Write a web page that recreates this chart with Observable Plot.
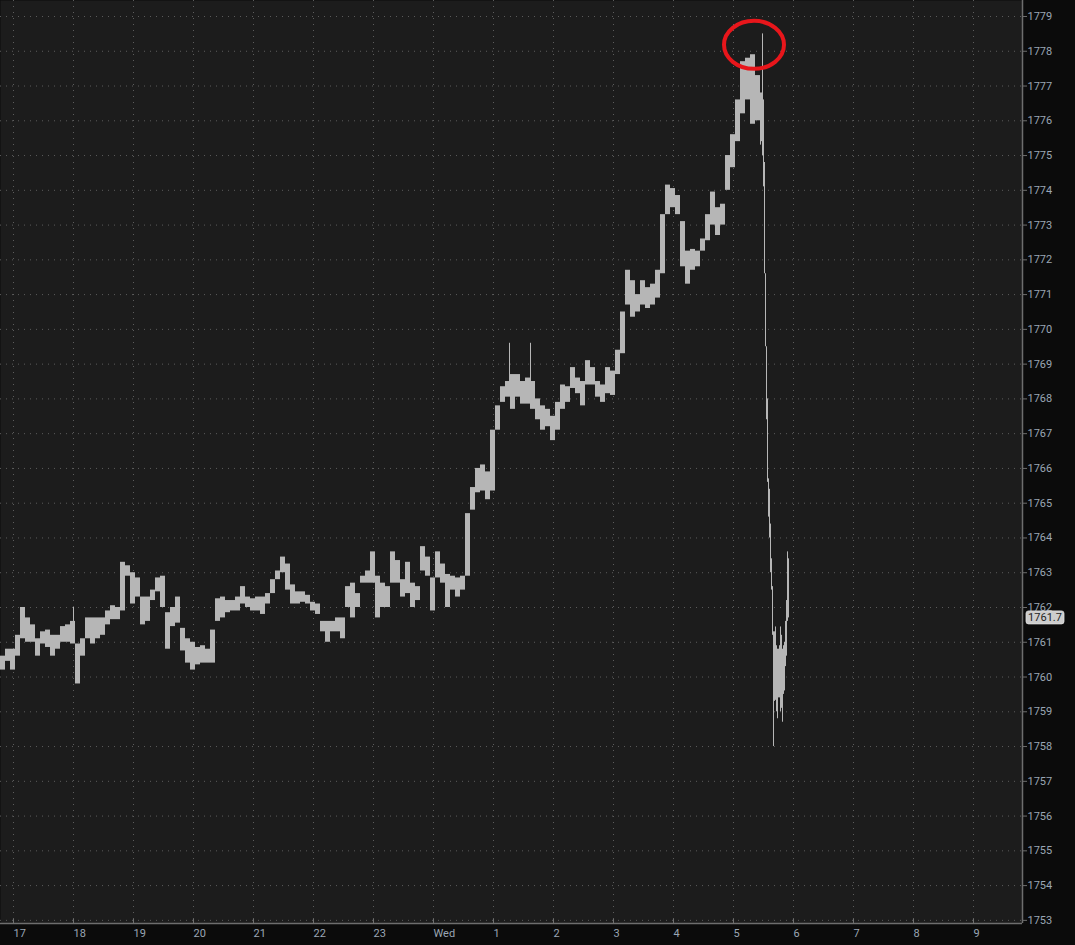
<!DOCTYPE html>
<html><head><meta charset="utf-8">
<script src="https://cdn.jsdelivr.net/npm/d3@7"></script>
<script src="https://cdn.jsdelivr.net/npm/@observablehq/plot@0.6"></script>
<style>
html,body{margin:0;padding:0;background:#0b0b0b;}
#chart{width:1075px;height:945px;overflow:hidden;}
</style>
</head><body><div id="chart"></div>
<script>
// ---- tick labels ----
const xTickMinutes = [0,60,120,180,240,300,360,420,480,540,600,660,720,780,840,900,960]; // minutes after 17:00
const xTickLabels = ["17","18","19","20","21","22","23","Wed","1","2","3","4","5","6","7","8","9"];
const yTicks = [1753,1754,1755,1756,1757,1758,1759,1760,1761,1762,1763,1764,1765,1766,1767,1768,1769,1770,1771,1772,1773,1774,1775,1776,1777,1778,1779];

// ---- 5-minute high/low bars, first bar starts 16:47 (minute -13) ----
const bar5Start = -13;
const bar5Hi = [1760.6,1760.8,1760.8,1761.2,1762.0,1761.7,1761.5,1761.1,1761.3,1761.35,
1761.2,1761.2,1761.45,1761.5,1761.6,1760.95,1761.1,1761.7,1761.7,1761.7,
1761.7,1761.9,1762.05,1762.0,1763.3,1763.2,1763.0,1762.85,1762.3,1762.3,
1762.5,1762.85,1762.9,1761.85,1762.0,1762.3,1761.4,1761.1,1761.0,1760.85,
1760.9,1760.8,1761.35,1762.25,1762.3,1762.2,1762.2,1762.3,1762.6,1762.3,
1762.25,1762.3,1762.3,1762.4,1762.8,1763.05,1763.45,1763.25,1762.65,1762.45,
1762.45,1762.35,1762.15,1762.1,1761.6,1761.6,1761.6,1761.7,1761.7,1762.6,
1762.7,1762.4,1762.9,1763.05,1763.6,1762.9,1762.7,1762.6,1763.6,1763.35,
1762.8,1763.3,1762.7,1762.6,1763.75,1763.45,1762.85,1763.6,1763.25,1762.95,
1762.9,1762.85,1762.9,1764.7,1765.45,1766.0,1766.1,1765.9,1767.1,1767.8,
1768.35,1768.5,1768.7,1768.7,1768.5,1768.6,1768.5,1768.0,1767.8,1767.7,
1767.5,1767.9,1768.4,1768.35,1768.9,1768.6,1768.5,1769.1,1768.9,1768.5,
1768.4,1768.9,1768.8,1769.4,1770.5,1771.7,1771.4,1771.0,1771.4,1771.2,
1771.3,1771.7,1773.3,1774.15,1774.05,1773.85,1773.1,1772.25,1772.3,1772.25,
1772.6,1773.3,1773.95,1773.5,1773.6,1775.0,1775.6,1776.6,1777.7,1777.8,
1777.9,1777.3];
const bar5Lo = [1760.2,1760.45,1760.2,1760.6,1761.1,1761.0,1761.0,1760.6,1760.95,1760.85,
1760.6,1760.8,1761.0,1761.0,1760.95,1759.8,1760.6,1761.1,1760.95,1761.1,
1761.2,1761.5,1761.65,1761.65,1761.9,1762.9,1762.1,1762.3,1761.5,1761.6,
1762.2,1762.45,1762.0,1760.8,1761.45,1761.55,1760.75,1760.4,1760.2,1760.35,
1760.4,1760.4,1760.4,1761.6,1761.7,1761.85,1761.9,1761.9,1762.1,1762.0,
1761.9,1761.9,1761.8,1762.1,1762.4,1762.8,1763.0,1762.5,1762.1,1762.1,
1762.15,1762.1,1761.9,1761.8,1761.3,1761.0,1761.3,1761.3,1761.1,1762.0,
1761.7,1762.0,1762.7,1762.7,1762.7,1761.7,1762.0,1762.0,1762.7,1762.7,
1762.3,1762.4,1762.0,1762.2,1763.05,1762.9,1761.9,1762.85,1762.7,1762.0,
1762.5,1762.3,1762.5,1762.9,1764.8,1765.3,1765.35,1765.1,1765.35,1767.1,
1767.9,1768.05,1767.7,1768.05,1767.85,1767.85,1767.7,1767.4,1767.1,1767.2,
1766.8,1767.1,1767.7,1767.9,1768.3,1768.15,1767.8,1768.4,1768.4,1768.05,
1767.9,1768.15,1768.1,1768.7,1769.3,1770.7,1770.35,1770.5,1770.7,1770.6,
1770.7,1770.9,1771.6,1773.3,1773.5,1773.3,1771.8,1771.3,1771.7,1771.8,
1772.25,1772.55,1773.0,1772.7,1773.0,1774.0,1774.65,1775.4,1776.2,1776.6,
1775.9,1776.0];

// ---- 1-minute high/low bars from 05:27 (minute 747) ----
const bar1Start = 747;
const bar1Hi = [1776.8,1776.8,1778.5,1776.6,1774.8,1771.6,1769.5,1768.0,1765.7,1765.4,
1764.4,1763.4,1762.6,1761.3,1761.3,1761.44,1760.9,1760.8,1760.8,1760.9,
1761.44,1761.2,1760.8,1760.9,1761.0,1761.6,1762.2,1763.6,1763.4];
const bar1Lo = [1775.3,1775.4,1775.0,1774.1,1771.6,1769.5,1767.4,1765.6,1764.6,1764.0,
1763.0,1762.5,1761.2,1758.0,1759.3,1759.33,1759.0,1758.8,1759.4,1759.4,
1759.0,1759.1,1758.7,1759.5,1759.6,1760.3,1760.6,1761.6,1761.7];

// ---- single-minute wicks inside the 5-minute period ----
const spikeMinute = [60, 496, 517];
const spikeLo = [1761.0, 1768.2, 1768.0];
const spikeHi = [1762.0, 1769.6, 1769.6];

const lastPrice = 1761.7;
const circleMinute = 741, circlePrice = 1778.17;

// ---- build tables ----
const bars = [];
bar5Hi.forEach((hi, i) => bars.push({t0: bar5Start + i * 5, t1: bar5Start + i * 5 + 5, lo: bar5Lo[i], hi}));
bar1Hi.forEach((hi, i) => bars.push({t0: bar1Start + i, t1: bar1Start + i + 1, lo: bar1Lo[i], hi}));
spikeMinute.forEach((m, i) => bars.push({t0: m, t1: m + 1, lo: spikeLo[i], hi: spikeHi[i]}));

const W = 1075, H = 945, mR = 53, mB = 22;
const xDomain = [-13, 1009];
const yDomain = [1752.91, 1779.46];
const labelOf = new Map(xTickMinutes.map((m, i) => [m, xTickLabels[i]]));

const chart = Plot.plot({
  width: W, height: H,
  marginTop: 0, marginLeft: 0, marginRight: mR, marginBottom: mB,
  style: {background: "#0b0b0b", color: "#9aa6b4", fontFamily: "Roboto, 'Open Sans', sans-serif", fontSize: "11px"},
  x: {domain: xDomain, axis: null},
  y: {domain: yDomain, axis: null},
  marks: [
    Plot.frame({fill: "#1c1c1c", stroke: null}),
    Plot.ruleY(yTicks, {stroke: "#5c5c5c", strokeOpacity: 1, strokeDasharray: "1,5"}),
    Plot.ruleX(xTickMinutes, {stroke: "#5c5c5c", strokeOpacity: 1, strokeDasharray: "1,5"}),
    Plot.rect(bars, {x1: "t0", x2: "t1", y1: "lo", y2: "hi", fill: "#b6b6b6"}),
    Plot.ruleX([xDomain[1]], {stroke: "#6e6e6e", strokeWidth: 1.5}),
    Plot.ruleY([yDomain[0]], {stroke: "#6e6e6e", strokeWidth: 1.5}),
    Plot.tickX(xTickMinutes, {x: d => d, stroke: "#6e6e6e", insetTop: H - mB - 4}),
    Plot.axisY(yTicks, {anchor: "right", tickSize: 4, tickPadding: 1, stroke: "#6e6e6e", fill: "#9aa6b4", tickFormat: d => String(d)}),
    Plot.axisX(xTickMinutes, {anchor: "bottom", tickSize: 0, tickPadding: 6, textAnchor: "start", dx: 0, fill: "#9aa6b4", tickFormat: d => labelOf.get(d)})
  ]
});
document.getElementById("chart").appendChild(chart);

// ---- annotation & last price tag through the plot's scales ----
const xs = chart.scale("x"), ys = chart.scale("y");
const ns = "http://www.w3.org/2000/svg";
const ell = document.createElementNS(ns, "ellipse");
ell.setAttribute("cx", xs.apply(circleMinute));
ell.setAttribute("cy", ys.apply(circlePrice));
ell.setAttribute("rx", 30);
ell.setAttribute("ry", 24);
ell.setAttribute("fill", "none");
ell.setAttribute("stroke", "#e8161b");
ell.setAttribute("stroke-width", 4);
chart.appendChild(ell);

const py = ys.apply(lastPrice);
const g = document.createElementNS(ns, "g");
const r = document.createElementNS(ns, "rect");
r.setAttribute("x", W - mR + 4);
r.setAttribute("y", py - 6.5);
r.setAttribute("width", 38);
r.setAttribute("height", 13);
r.setAttribute("rx", 2.5);
r.setAttribute("fill", "#cdcdcd");
r.setAttribute("stroke", "#e2e2e2");
r.setAttribute("stroke-width", 0.8);
const tx = document.createElementNS(ns, "text");
tx.setAttribute("x", W - mR + 4 + 19);
tx.setAttribute("y", py);
tx.setAttribute("dy", "0.35em");
tx.setAttribute("text-anchor", "middle");
tx.setAttribute("fill", "#1e1e1e");
tx.setAttribute("font-size", "11px");
tx.textContent = lastPrice.toFixed(1);
g.appendChild(r); g.appendChild(tx);
chart.appendChild(g);
</script>
</body></html>
